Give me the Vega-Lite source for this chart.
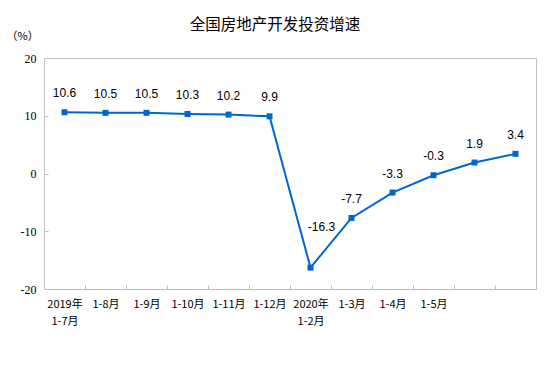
{
  "$schema": "https://vega.github.io/schema/vega-lite/v6.json",
  "autosize": "none",
  "padding": {"left": 44, "top": 58, "right": 18, "bottom": 78},
  "width": 492,
  "height": 231,
  "background": "white",
  "title": {
    "text": "全国房地产开发投资增速",
    "font": "Noto Sans CJK SC",
    "fontSize": 15.5,
    "fontWeight": "normal",
    "color": "#000000",
    "anchor": "middle",
    "dx": -15,
    "offset": 22,
    "dy": 25
  },
  "config": {
    "view": {"stroke": "#BFBFBF", "strokeWidth": 1}
  },
  "data": {
    "values": [
      {"period": "2019年 1-7月", "value": 10.6},
      {"period": "1-8月", "value": 10.5},
      {"period": "1-9月", "value": 10.5},
      {"period": "1-10月", "value": 10.3},
      {"period": "1-11月", "value": 10.2},
      {"period": "1-12月", "value": 9.9},
      {"period": "2020年 1-2月", "value": -16.3},
      {"period": "1-3月", "value": -7.7},
      {"period": "1-4月", "value": -3.3},
      {"period": "1-5月", "value": -0.3},
      {"period": "1-6月", "value": 1.9},
      {"period": "1-7月", "value": 3.4}
    ]
  },
  "encoding": {
    "x": {
      "field": "period",
      "type": "ordinal",
      "sort": null,
      "scale": {"type": "band", "paddingInner": 0, "paddingOuter": 0},
      "axis": {
        "title": null,
        "labelAngle": 0,
        "labelExpr": "(datum.value == null || indexof(['1-6月','1-7月'], datum.value) >= 0) ? '' : split(datum.value, ' ')",
        "labelFont": "Noto Sans CJK SC",
        "labelFontSize": 11,
        "labelColor": "#000000",
        "labelPadding": 13,
        "labelLineHeight": 17,
        "tickBand": "extent",
        "tickSize": -4,
        "tickColor": "#BFBFBF",
        "domainColor": "#BFBFBF",
        "grid": false
      }
    },
    "y": {
      "field": "value",
      "type": "quantitative",
      "scale": {"domain": [-20, 20], "nice": false},
      "axis": {
        "title": "（%）",
        "titleAngle": 0,
        "titleX": -38,
        "titleY": -22,
        "titleAlign": "left",
        "titleBaseline": "middle",
        "titleFont": "Noto Sans CJK SC",
        "titleFontSize": 11,
        "titleFontWeight": "normal",
        "titleColor": "#000000",
        "values": [-20, -10, 0, 10, 20],
        "labelExpr": "toString(datum.value)",
        "labelFont": "Liberation Serif",
        "labelFontSize": 12,
        "labelColor": "#000000",
        "labelPadding": 12,
        "tickSize": -4,
        "tickColor": "#BFBFBF",
        "domainColor": "#BFBFBF",
        "grid": false
      }
    }
  },
  "layer": [
    {
      "mark": {"type": "line", "color": "#0066CC", "strokeWidth": 2}
    },
    {
      "mark": {"type": "square", "color": "#0066CC", "opacity": 1, "size": 36, "filled": true}
    },
    {
      "transform": [{"filter": "datum.value > -16"}],
      "mark": {"type": "text", "font": "Liberation Sans", "fontSize": 12, "color": "#000000", "dy": -19, "baseline": "middle"},
      "encoding": {"text": {"field": "value", "type": "nominal"}}
    },
    {
      "transform": [{"filter": "datum.value < -16"}],
      "mark": {"type": "text", "font": "Liberation Sans", "fontSize": 12, "color": "#000000", "dx": 11, "dy": -41, "baseline": "middle"},
      "encoding": {"text": {"field": "value", "type": "nominal"}}
    }
  ]
}
